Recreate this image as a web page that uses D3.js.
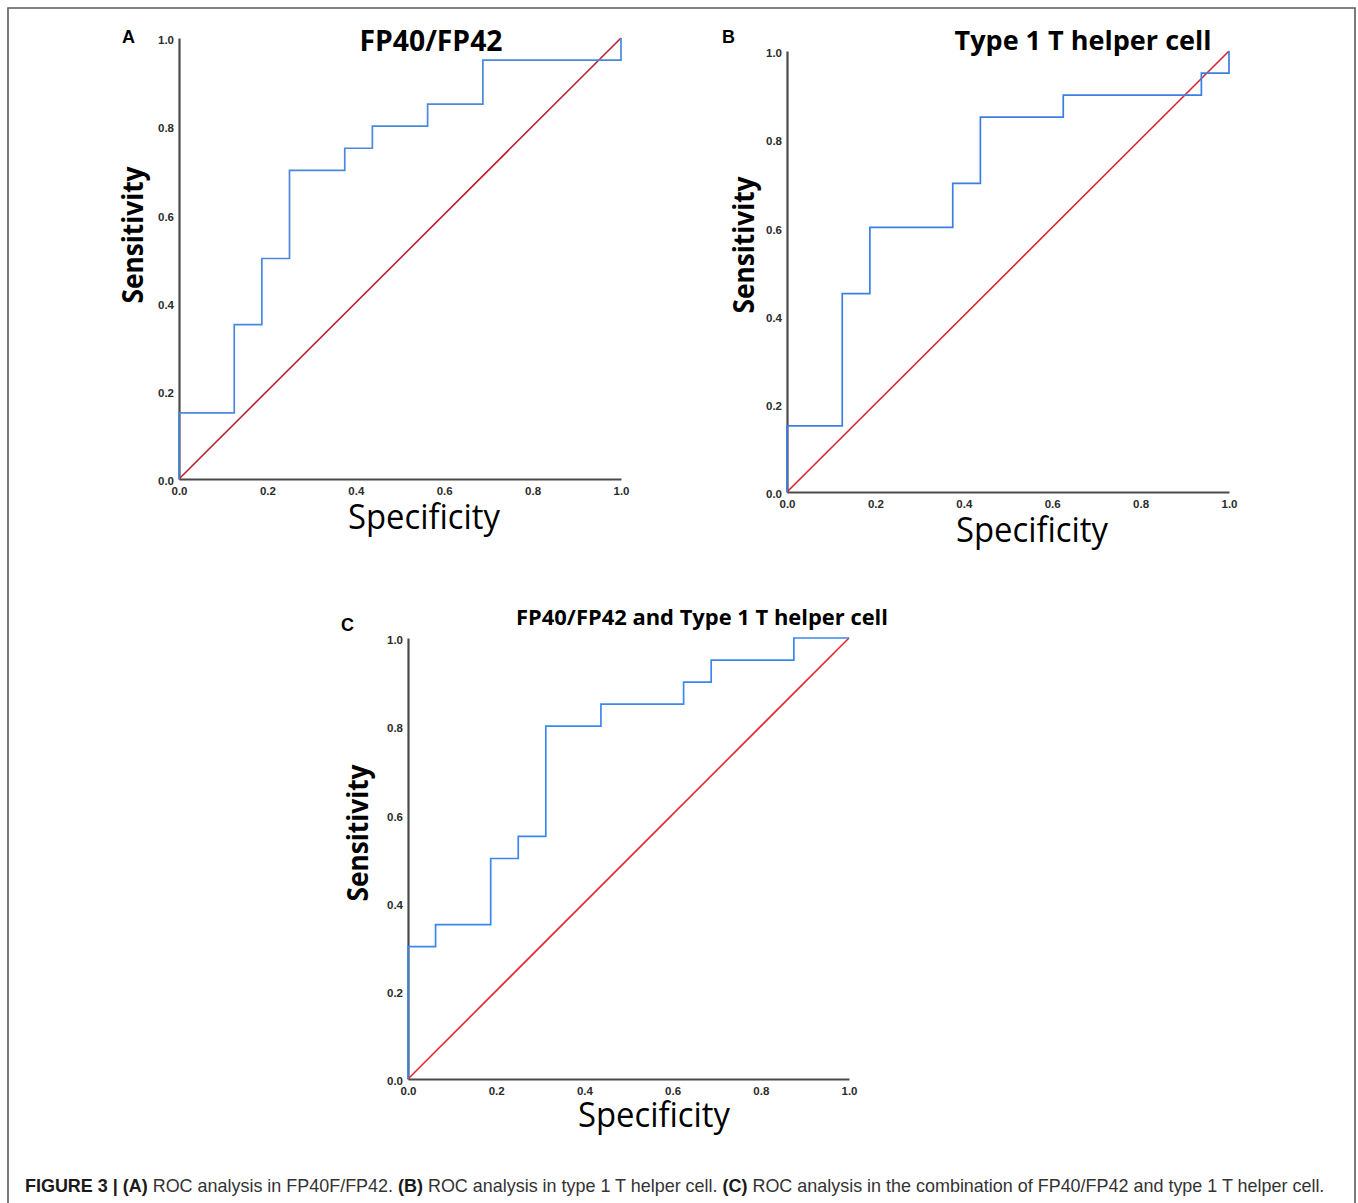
<!DOCTYPE html>
<html>
<head>
<meta charset="utf-8">
<script src="https://cdn.jsdelivr.net/npm/d3@7"></script>
<style>
  body { margin: 0; background: #fff; }
  svg { display: block; }
</style>
</head>
<body>
<svg id="fig" width="1358" height="1203"></svg>
<script>
// ---- data -------------------------------------------------------------
const tickValues = [0, 0.2, 0.4, 0.6, 0.8, 1.0];

// ROC step vertices (x = 1 - specificity, y = sensitivity)
const fprA = [0, 0, 0.125, 0.1875, 0.25, 0.375, 0.4375, 0.5625, 0.6875, 1];
const tprA = [0, 0.15, 0.35, 0.50, 0.70, 0.75, 0.80, 0.85, 0.95, 1];

const fprB = [0, 0, 0.125, 0.1875, 0.375, 0.4375, 0.625, 0.9375, 1];
const tprB = [0, 0.15, 0.45, 0.60, 0.70, 0.85, 0.90, 0.95, 1];

const fprC = [0, 0, 0.0625, 0.1875, 0.25, 0.3125, 0.4375, 0.625, 0.6875, 0.875, 1];
const tprC = [0, 0.30, 0.35, 0.50, 0.55, 0.80, 0.85, 0.90, 0.95, 1.0, 1.0];

// chance line
const refX = [0, 1];
const refY = [0, 1];

const panelLetters = ["A", "B", "C"];
const panelTitles = ["FP40/FP42", "Type 1 T helper cell", "FP40/FP42 and Type 1 T helper cell"];
const xAxisTitle = "Specificity";
const yAxisTitle = "Sensitivity";

const captionParts = [
  { t: "FIGURE 3 | ", b: true },
  { t: "(A)", b: true },
  { t: " ROC analysis in FP40F/FP42. ", b: false },
  { t: "(B)", b: true },
  { t: " ROC analysis in type 1 T helper cell. ", b: false },
  { t: "(C)", b: true },
  { t: " ROC analysis in the combination of FP40/FP42 and type 1 T helper cell.", b: false }
];

// ---- layout -----------------------------------------------------------
const panels = [
  { fpr: fprA, tpr: tprA, left: 179, top: 38, w: 442, h: 441,
    title: { x: 431, y: 51, size: 28, width: 143 },
    letter: { x: 122, y: 43 },
    ylab: { x: 143, y: 235, width: 137 },
    xlab: { x: 424, y: 529, width: 152 },
    roc: "#4a88dc", ref: "#b8232e" },
  { fpr: fprB, tpr: tprB, left: 787, top: 51, w: 442, h: 441,
    title: { x: 1083, y: 50, size: 27, width: 257 },
    letter: { x: 722, y: 43 },
    ylab: { x: 754, y: 245, width: 137 },
    xlab: { x: 1032, y: 542, width: 152 },
    roc: "#3c7fe2", ref: "#d6262f" },
  { fpr: fprC, tpr: tprC, left: 408, top: 638, w: 441, h: 441,
    title: { x: 702, y: 625, size: 22, width: 372 },
    letter: { x: 341, y: 631 },
    ylab: { x: 368, y: 833, width: 137 },
    xlab: { x: 654, y: 1127, width: 152 },
    roc: "#3b87f0", ref: "#e6262a" }
];

const svg = d3.select("#fig");
svg.append("rect").attr("width", 1358).attr("height", 1203).attr("fill", "#fff");

// figure frame (open at the bottom)
svg.append("path")
  .attr("d", "M8,1203V8H1355V1203")
  .attr("fill", "none")
  .attr("stroke", "#5a5a5a")
  .attr("stroke-width", 1.6);

const fmt = d3.format(".1f");

panels.forEach((p, i) => {
  const x = d3.scaleLinear().domain([0, 1]).range([0, p.w]);
  const y = d3.scaleLinear().domain([0, 1]).range([p.h, 0]);
  const g = svg.append("g").attr("transform", `translate(${p.left},${p.top})`);

  // axes
  const xAxis = d3.axisBottom(x).tickValues(tickValues).tickFormat(fmt)
    .tickSize(0).tickSizeOuter(0).tickPadding(8);
  const yAxis = d3.axisLeft(y).tickValues(tickValues).tickFormat(fmt)
    .tickSize(0).tickSizeOuter(0).tickPadding(5);

  const gx = g.append("g").attr("transform", `translate(0,${p.h})`).call(xAxis);
  const gy = g.append("g").call(yAxis);
  [gx, gy].forEach(a => {
    a.select(".domain").attr("stroke", "#4a4a4a").attr("stroke-width", 2.2);
    a.selectAll("text")
      .attr("font-family", "'Liberation Sans', Arial, sans-serif")
      .attr("font-size", 11.5)
      .attr("font-weight", "bold")
      .attr("fill", "#2b2b2b");
  });
  gy.selectAll("text").attr("dy", "0.5em");

  // chance diagonal
  const refPts = refX.map((v, k) => [v, refY[k]]);
  g.append("path")
    .attr("d", d3.line().x(d => x(d[0])).y(d => y(d[1]))(refPts))
    .attr("fill", "none")
    .attr("stroke", p.ref)
    .attr("stroke-width", 1.6);

  // ROC step curve
  const pts = p.fpr.map((v, k) => [v, p.tpr[k]]);
  g.append("path")
    .attr("d", d3.line().curve(d3.curveStepAfter).x(d => x(d[0])).y(d => y(d[1]))(pts))
    .attr("fill", "none")
    .attr("stroke", p.roc)
    .attr("stroke-width", 1.7);

  // panel title
  svg.append("text")
    .attr("x", p.title.x).attr("y", p.title.y)
    .attr("text-anchor", "middle")
    .attr("font-family", "'Open Sans', 'Noto Sans', sans-serif")
    .attr("font-weight", 700)
    .attr("font-size", p.title.size)
    .attr("fill", "#000")
    .attr("textLength", p.title.width)
    .attr("lengthAdjust", "spacingAndGlyphs")
    .text(panelTitles[i]);

  // panel letter
  svg.append("text")
    .attr("x", p.letter.x).attr("y", p.letter.y)
    .attr("font-family", "'Liberation Sans', Arial, sans-serif")
    .attr("font-weight", "bold")
    .attr("font-size", 18)
    .attr("fill", "#000")
    .text(panelLetters[i]);

  // y-axis title
  svg.append("text")
    .attr("transform", `translate(${p.ylab.x},${p.ylab.y}) rotate(-90)`)
    .attr("text-anchor", "middle")
    .attr("font-family", "'Open Sans', 'Noto Sans', sans-serif")
    .attr("font-weight", 700)
    .attr("font-size", 28)
    .attr("fill", "#000")
    .attr("textLength", p.ylab.width)
    .attr("lengthAdjust", "spacingAndGlyphs")
    .text(yAxisTitle);

  // x-axis title
  svg.append("text")
    .attr("x", p.xlab.x).attr("y", p.xlab.y)
    .attr("text-anchor", "middle")
    .attr("font-family", "'Open Sans', 'Noto Sans', sans-serif")
    .attr("font-weight", 400)
    .attr("font-size", 34)
    .attr("fill", "#000")
    .attr("textLength", p.xlab.width)
    .attr("lengthAdjust", "spacingAndGlyphs")
    .text(xAxisTitle);
});

// caption, stretched horizontally to its column width
const capG = svg.append("g");
const cap = capG.append("text")
  .attr("x", 0).attr("y", 0)
  .attr("font-family", "'Liberation Sans Narrow', 'Liberation Sans', Arial, sans-serif")
  .attr("font-size", 18)
  .attr("fill", "#333");
cap.selectAll("tspan").data(captionParts).join("tspan")
  .attr("font-weight", d => d.b ? "bold" : "normal")
  .attr("fill", d => d.b ? "#1a1a1a" : "#333")
  .text(d => d.t);
const capW = cap.node().getComputedTextLength();
const sx = 1300 / capW;
capG.attr("transform", `translate(25,1192) scale(${sx},1)`);
</script>
</body>
</html>
